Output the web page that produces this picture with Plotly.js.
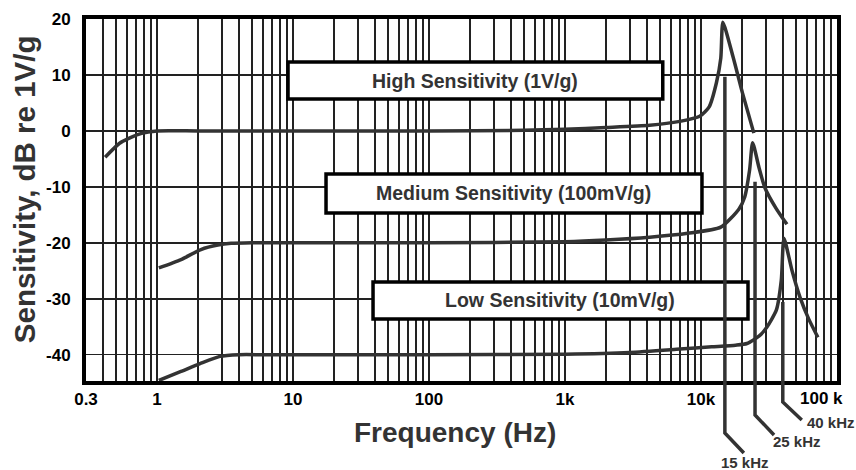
<!DOCTYPE html>
<html>
<head>
<meta charset="utf-8">
<script src="https://cdn.plot.ly/plotly-3.0.1.min.js"></script>
<style>html,body{margin:0;padding:0;background:#fff;}#chart{width:856px;height:470px;}</style>
</head>
<body>
<div id="chart"></div>
<script>
// ---- data ----
var highFreq = [0.415, 0.53, 0.71, 0.86, 1.0, 2, 10, 100, 500, 1000, 2000, 4200, 7000, 9800, 11500, 13000, 14000, 14500, 17200, 20200, 24500];
var highDb   = [-4.7, -2.2, -0.7, -0.2, 0, 0, 0, 0, 0.1, 0.3, 0.6, 1.0, 1.7, 2.6, 4.3, 8.6, 13.0, 19.4, 13.3, 6.8, -0.4];

var medFreq = [1.03, 1.5, 2.1, 2.8, 3.5, 5, 10, 100, 1000, 2000, 4200, 8000, 14000, 19000, 21000, 22800, 24000, 26700, 29600, 35600, 42900];
var medDb   = [-24.5, -23.0, -21.2, -20.4, -20.1, -20, -20, -20, -19.8, -19.5, -19.0, -18.3, -17.2, -14.0, -11.8, -7.0, -2.1, -6.5, -10.2, -13.8, -16.7];

var lowFreq = [1.03, 1.5, 2.07, 2.9, 4, 6, 10, 100, 1000, 3000, 7000, 12000, 18000, 21800, 27000, 30500, 35900, 39000, 40800, 46700, 53500, 62000, 72500];
var lowDb   = [-44.6, -43.0, -41.6, -40.3, -40.0, -40, -40, -40, -39.9, -39.6, -39.0, -38.6, -38.3, -38.0, -36.6, -35.1, -32.0, -26.7, -19.2, -24.9, -29.7, -33.6, -36.9];

var boxLabels = ["High Sensitivity (1V/g)", "Medium Sensitivity (100mV/g)", "Low Sensitivity (10mV/g)"];
var resonanceFreq = [15000, 25000, 40000];
var resonanceTopDb = [9.7, -9.1, -30.6];
var resonanceLabels = ["15 kHz", "25 kHz", "40 kHz"];

var tickLabelVals = [0.3, 1, 10, 100, 1000, 10000];
var tickLabelText = ["0.3", "1", "10", "100", "1k", "10k"];
var lastTickLabel = "100 k";

// ---- layout helpers ----
var XR = [Math.log10(0.3), 5.0008];
var YR = [-44.7, 20];
function fx(f) { return (Math.log10(f) - XR[0]) / (XR[1] - XR[0]); }
function fy(v) { return (v - YR[0]) / (YR[1] - YR[0]); }

// grid tick values 1..9 per decade
var gridVals = [], gridText = [];
for (var e = -1; e <= 5; e++) {
  for (var d = 1; d <= 9; d++) {
    var v = d * Math.pow(10, e);
    v = parseFloat(v.toPrecision(3));
    if (v < 0.3 - 1e-9 || v > 100000 + 1e-6) continue;
    gridVals.push(v);
    var idx = -1;
    for (var k = 0; k < tickLabelVals.length; k++) if (Math.abs(tickLabelVals[k] - v) / v < 1e-6) idx = k;
    gridText.push(idx >= 0 ? tickLabelText[idx] : "");
  }
}

var FONT = 'Liberation Sans, Arial, sans-serif';
var lineStyle = {color: '#333333', width: 3.5, shape: 'spline', smoothing: 0.6};
var traces = [
  {x: highFreq, y: highDb, mode: 'lines', line: lineStyle, hoverinfo: 'skip'},
  {x: medFreq, y: medDb, mode: 'lines', line: lineStyle, hoverinfo: 'skip'},
  {x: lowFreq, y: lowDb, mode: 'lines', line: lineStyle, hoverinfo: 'skip'}
];

// boxes (paper coords)
var boxes = [
  {x0: 0.269, x1: 0.768, y0: 0.779, y1: 0.881, tx: 0.5185, ty: 0.830},
  {x0: 0.3196, x1: 0.8202, y0: 0.4641, y1: 0.5718, tx: 0.5699, ty: 0.519},
  {x0: 0.3822, x1: 0.8815, y0: 0.1713, y1: 0.2735, tx: 0.6318, ty: 0.2238}
];
var shapes = [], annotations = [];
boxes.forEach(function (b, i) {
  shapes.push({type: 'rect', xref: 'paper', yref: 'paper', x0: b.x0, x1: b.x1, y0: b.y0, y1: b.y1,
    line: {color: '#000', width: 3.5}, fillcolor: '#fff', layer: 'above'});
  annotations.push({xref: 'paper', yref: 'paper', x: b.tx, y: b.ty, text: '<b>' + boxLabels[i] + '</b>',
    showarrow: false, xanchor: 'center', yanchor: 'middle',
    font: {family: FONT, size: 19.5, color: '#333'}});
});

// resonance leader lines
var bendY = [-0.1436, -0.0939, -0.058];
var endDX = 0.0253;
var endY = [-0.1989, -0.1492, -0.1077];
var labelPos = [
  {x: 0.8775, y: -0.2238, anchor: 'center'},
  {x: 0.9467, y: -0.1685, anchor: 'center'},
  {x: 0.9574, y: -0.116, anchor: 'left'}
];
resonanceFreq.forEach(function (f, i) {
  var x = fx(f);
  var path = 'M ' + x + ' ' + fy(resonanceTopDb[i]) + ' L ' + x + ' ' + bendY[i] + ' L ' + (x + endDX) + ' ' + endY[i];
  shapes.push({type: 'path', xref: 'paper', yref: 'paper', path: path,
    line: {color: '#333', width: 3.5}, layer: 'above'});
  annotations.push({xref: 'paper', yref: 'paper', x: labelPos[i].x, y: labelPos[i].y,
    text: '<b>' + resonanceLabels[i] + '</b>', showarrow: false, xanchor: labelPos[i].anchor, yanchor: 'middle',
    font: {family: FONT, size: 15, color: '#333'}});
});

// last x tick label (kept inside the page)
annotations.push({xref: 'paper', yref: 'paper', x: 1.0106, y: -0.0497, text: '<b>' + lastTickLabel + '</b>',
  showarrow: false, xanchor: 'right', yanchor: 'middle', font: {family: FONT, size: 17, color: '#000'}});

// axis titles as annotations for exact placement
annotations.push({xref: 'paper', yref: 'paper', x: 0.491, y: -0.1436, text: '<b>Frequency (Hz)</b>',
  showarrow: false, xanchor: 'center', yanchor: 'middle', font: {family: FONT, size: 28, color: '#333'}});
annotations.push({xref: 'paper', yref: 'paper', x: -0.0825, y: 0.530, text: '<b>Sensitivity, dB re 1V/g</b>',
  textangle: -90, showarrow: false, xanchor: 'center', yanchor: 'middle', font: {family: FONT, size: 29.5, color: '#333'}});

var layout = {
  width: 856, height: 470,
  margin: {l: 86, r: 19, t: 19, b: 89, pad: 0},
  paper_bgcolor: '#fff', plot_bgcolor: '#fff',
  showlegend: false,
  font: {family: FONT, color: '#000'},
  xaxis: {
    type: 'log', range: XR, tickmode: 'array', tickvals: gridVals, ticktext: gridText,
    showgrid: true, gridcolor: '#222', gridwidth: 2, ticks: '',
    showline: true, linecolor: '#000', linewidth: 4, mirror: true, zeroline: false,
    tickfont: {size: 17, color: '#000', family: FONT, weight: 'bold'},
    ticklabelstandoff: 0
  },
  yaxis: {
    range: YR, tickmode: 'array', tickvals: [-40, -30, -20, -10, 0, 10, 20],
    ticktext: ['-40', '-30', '-20', '-10', '0', '10', '20'],
    showgrid: true, gridcolor: '#222', gridwidth: 1.5, ticks: '',
    showline: true, linecolor: '#000', linewidth: 4, mirror: true, zeroline: false,
    tickfont: {size: 17, color: '#000', family: FONT, weight: 'bold'},
    ticklabelstandoff: 8, ticklabeloverflow: 'allow'
  },
  shapes: shapes,
  annotations: annotations
};

Plotly.newPlot('chart', traces, layout, {displayModeBar: false, staticPlot: true});
</script>
</body>
</html>
